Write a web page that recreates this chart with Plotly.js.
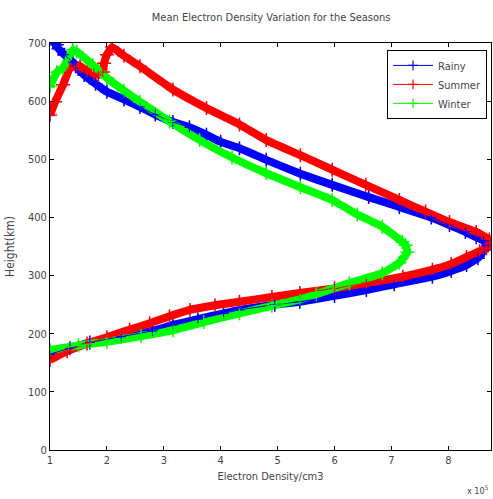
<!DOCTYPE html>
<html>
<head>
<meta charset="utf-8">
<script src="https://cdn.plot.ly/plotly-3.0.1.min.js"></script>
<style>html,body{margin:0;padding:0;background:#fff}#chart{width:493px;height:499px}</style>
</head>
<body>
<div id="chart"></div>
<script>
// Electron density in units of 1e5 per cm3, heights in km
const rainyDensity = [1.00,1.35,1.70,2.25,2.80,3.16,3.60,4.05,4.33,4.95,5.39,6.00,6.56,7.05,7.72,8.05,8.32,8.52,8.63,8.70,8.62,8.49,8.30,8.02,7.70,7.14,6.60,5.96,5.40,4.80,4.33,4.00,3.75,3.45,3.16,2.85,2.58,2.30,2.00,1.80,1.60,1.45,1.40,1.25,1.15,1.08,1.12,1.05];
const rainyHeight  = [165,175,185,195,205,215,225,235,241,250,255,265,275,285,298,308,318,330,344,352,360,366,375,387,400,418,435,456,475,499,519,530,542,555,564,577,590,603,616,630,645,660,667,680,690,700,697,703];

const summerDensity = [1.00,1.30,1.65,2.00,2.40,2.75,3.10,3.46,3.90,4.33,4.90,5.39,6.00,6.56,7.20,7.72,8.05,8.32,8.55,8.67,8.75,8.72,8.49,8.02,7.60,7.14,6.55,5.96,5.40,4.80,4.33,3.75,3.16,2.58,2.30,2.09,2.00,1.95,1.93,1.85,1.77,1.65,1.53,1.35,1.23,1.09,1.00];
const summerHeight  = [155,170,183,194,207,218,230,241,249,255,263,270,278,287,298,310,320,332,342,347,355,362,375,392,410,430,456,482,507,533,560,588,620,660,678,693,680,665,650,645,648,652,660,657,628,599,576];

const winterDensity = [1.00,1.50,2.00,2.60,3.16,3.70,4.33,4.90,5.39,5.68,6.26,6.84,7.14,7.28,7.25,7.19,6.84,6.40,5.96,5.40,4.80,4.20,3.63,3.10,2.58,2.30,2.00,1.75,1.47,1.40,1.23,1.12,1.00];
const winterHeight  = [172,180,186,196,206,220,235,248,259,268,287,304,322,340,352,358,384,405,430,452,476,503,533,565,599,618,640,662,685,688,657,650,625];

const seriesNames = ["Rainy","Summer","Winter"];
const seriesColors = ["#0000ff","#ff0000","#00ff00"];
const xTicks = [1,2,3,4,5,6,7,8];
const yTicks = [0,100,200,300,400,500,600,700];

const xs = [rainyDensity, summerDensity, winterDensity];
const ys = [rainyHeight, summerHeight, winterHeight];

const data = [];
for (let i = 0; i < 3; i++) {
  // thick band (the dense marker trail of the original)
  data.push({
    x: xs[i], y: ys[i], name: seriesNames[i], legendgroup: seriesNames[i], showlegend: false,
    type: "scatter", mode: "lines+markers",
    line: {color: seriesColors[i], width: 8, shape: "spline", smoothing: 0.3},
    marker: {symbol: "cross-thin", size: 10, line: {color: seriesColors[i], width: 1.5}, color: seriesColors[i]}
  });
}
for (let i = 0; i < 3; i++) {
  // thin line with '+' markers (legend entry)
  data.push({
    x: xs[i], y: ys[i], name: seriesNames[i], legendgroup: seriesNames[i], showlegend: true,
    type: "scatter", mode: "lines+markers",
    line: {color: seriesColors[i], width: 1, shape: "spline", smoothing: 0.3},
    marker: {symbol: "cross-thin", size: 7, line: {color: seriesColors[i], width: 1.2}, color: seriesColors[i]}
  });
}

const fontFam = "DejaVu Sans Condensed, Liberation Sans Narrow, Liberation Sans, Arial, sans-serif";
const layout = {
  width: 493, height: 499,
  margin: {l: 50, r: 2, t: 43, b: 49},
  paper_bgcolor: "#fff", plot_bgcolor: "#fff",
  font: {family: fontFam, size: 11, color: "#444"},
  title: {text: "Mean Electron Density Variation for the Seasons", font: {family: fontFam, size: 11, color: "#444"}, x: 0.55, xanchor: "center", y: 0.965, yanchor: "middle"},
  showlegend: true,
  legend: {x: 0.991, y: 0.983, xanchor: "right", yanchor: "top", bordercolor: "#000", borderwidth: 1, bgcolor: "#fff",
           font: {family: fontFam, size: 11, color: "#444"}, itemwidth: 40, tracegroupgap: 0},
  xaxis: {range: [1, 8.75], tickvals: xTicks, ticks: "inside", ticklen: 4, tickcolor: "#000",
          showline: true, linecolor: "#000", linewidth: 1, mirror: "allticks", showgrid: false, zeroline: false,
          tickfont: {family: fontFam, size: 11, color: "#444"},
          title: {text: "Electron Density/cm3", font: {family: fontFam, size: 11, color: "#444"}, standoff: 6}},
  yaxis: {range: [0, 700], tickvals: yTicks, ticks: "inside", ticklen: 4, tickcolor: "#000",
          showline: true, linecolor: "#000", linewidth: 1, mirror: "allticks", showgrid: false, zeroline: false,
          tickfont: {family: fontFam, size: 11, color: "#444"},
          title: {text: "Height(km)", font: {family: fontFam, size: 12, color: "#444"}, standoff: 10}},
  annotations: [{text: "x 10<sup>5</sup>", xref: "paper", yref: "paper", x: 1.0, y: -0.117, xanchor: "right", yanchor: "bottom",
                 showarrow: false, font: {family: fontFam, size: 9, color: "#444"}}]
};

Plotly.newPlot("chart", data, layout, {displayModeBar: false, staticPlot: true});
</script>
</body>
</html>
